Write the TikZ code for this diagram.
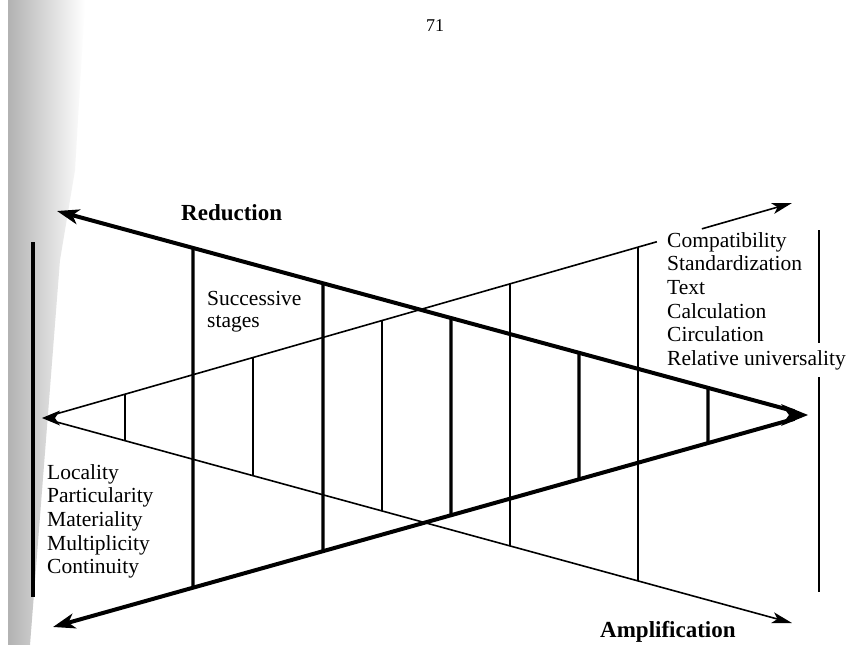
\documentclass[tikz,border=0pt]{standalone}
\usepackage{fontspec}
\setmainfont{Liberation Serif}
\usetikzlibrary{arrows.meta,calc}
\begin{document}
\begin{tikzpicture}[x=1pt,y=-1pt,
  thickline/.style={line width=4pt},
  thinline/.style={line width=1.6pt},
  thickv/.style={line width=3.4pt},
  thinv/.style={line width=1.6pt},
  bigtip/.style={-{Stealth[length=22pt,width=15pt,inset=6pt]}},
  smalltip/.style={-{Stealth[length=20pt,width=11pt,inset=5pt]}},
  lbl/.style={inner sep=0pt, anchor=base west, font=\fontsize{21.5}{23.7}\selectfont},
  head/.style={inner sep=0pt, anchor=base west, font=\fontsize{23}{26}\selectfont\bfseries}]
\useasboundingbox (0,0) rectangle (849,645);
\fill[white] (0,0) rectangle (849,645);
% scanned gutter shading at the left edge
\shade[left color=black!30, right color=white] (8,0) -- (85,0) -- (75,170) -- (60,260) -- (30,645) -- (8,645) -- cycle;

% key points
\coordinate (TL) at (57,211);
\coordinate (BL) at (53,627);
\coordinate (R)  at (808,415);
\coordinate (L)  at (42,418);
\coordinate (UR) at (792,203);
\coordinate (LR) at (792,623);

% thick (reduction) triangle
\draw[thickline, bigtip, shorten <=14pt] (R) -- (TL);
\draw[thickline, bigtip, shorten <=14pt] (R) -- (BL);
\fill (R) -- ($(R)+(-27,-11)$) -- ($(R)+(-19,0)$) -- ($(R)+(-27,11)$) -- cycle;

% thin (amplification) triangle
\draw[thinline, shorten <=9pt] (L) -- ($(L)!0.8198!(UR)$);
\draw[thinline, smalltip] ($(L)!0.8798!(UR)$) -- (UR);
\draw[thinline, smalltip, shorten <=9pt] (L) -- (LR);
\fill (L) -- ($(L)+(18,-7.5)$) -- ($(L)+(13,0)$) -- ($(L)+(18,7.5)$) -- cycle;

% successive stages
\foreach \x in {125,253,382,510,638}
  \draw[thinv] (intersection of L--UR and \x,0--\x,100) -- (intersection of L--LR and \x,0--\x,100);
\foreach \x in {193,323,451,579,708}
  \draw[thickv] (intersection of TL--R and \x,0--\x,100) -- (intersection of BL--R and \x,0--\x,100);

% side bars
\draw[line width=3.4pt] (33,242) -- (33,597);
\draw[line width=1.8pt] (819,230) -- (819,343);
\draw[line width=1.8pt] (819,377) -- (819,592);

% texts
\node[font=\fontsize{18}{20}\selectfont] (pg) at (435,26) {71};
\node[head] (red) at (181,220) {Reduction};
\node[head] (amp) at (600,637) {Amplification};
\node[lbl, font=\fontsize{21.5}{22}\selectfont] (succ) at (207,305) {\begin{tabular}[t]{@{}l@{}}Successive\\stages\end{tabular}};
\node[lbl] (rlist) at (667,247) {\begin{tabular}[t]{@{}l@{}}Compatibility\\Standardization\\Text\\Calculation\\Circulation\\Relative universality\end{tabular}};
\node[lbl] (llist) at (47,479) {\begin{tabular}[t]{@{}l@{}}Locality\\Particularity\\Materiality\\Multiplicity\\Continuity\end{tabular}};
\end{tikzpicture}
\end{document}
